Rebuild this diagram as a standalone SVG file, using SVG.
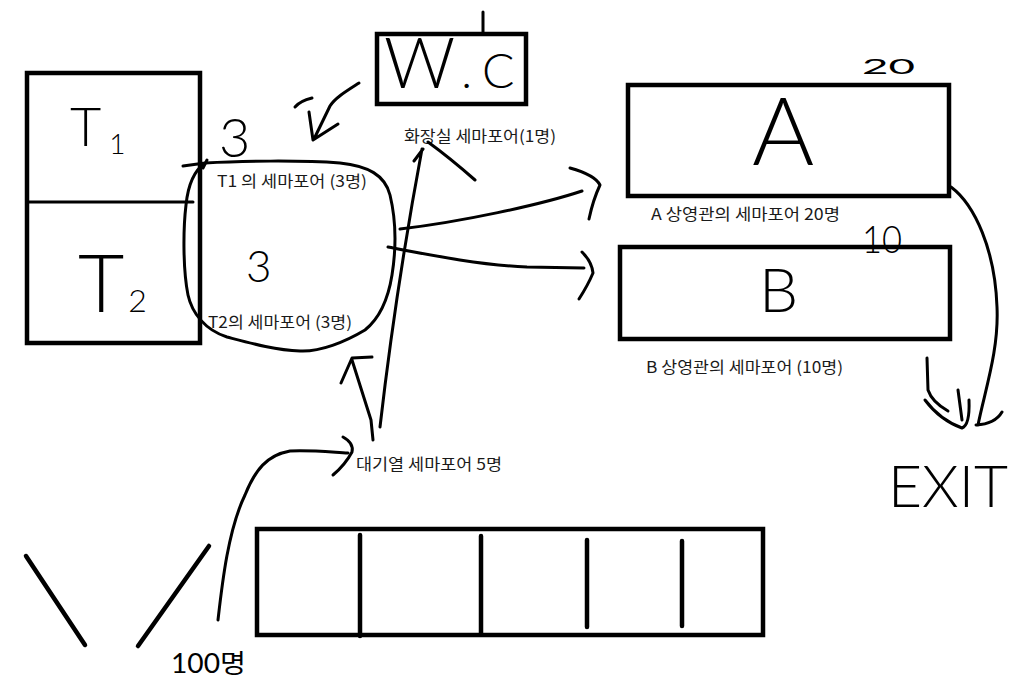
<svg xmlns="http://www.w3.org/2000/svg" width="1019" height="688" viewBox="0 0 1019 688">
<style>
.box{fill:none;stroke:#000;stroke-width:4.5}
.ln{fill:none;stroke:#000;stroke-width:3;stroke-linecap:round;stroke-linejoin:round}
.thick{fill:none;stroke:#000;stroke-width:4.5;stroke-linecap:round}
.hand{font-family:Lato,"Open Sans","Noto Sans CJK KR",sans-serif;font-weight:300;fill:#000}
.handb{font-family:Lato,"Open Sans","Noto Sans CJK KR",sans-serif;font-weight:400;fill:#000}
.lbl{font-family:"Noto Sans CJK KR","Noto Sans",sans-serif;font-size:16px;fill:#1a1a1a}
</style>
<rect width="1019" height="688" fill="#fff"/>
<g id="tables">
<rect class="box" x="27" y="73" width="173" height="270"/>
<path class="ln" d="M27,202 L193,202"/>
<text class="hand" x="70" y="146" font-size="54">T<tspan font-size="28" dx="8" dy="8">1</tspan></text>
<text class="hand" x="78" y="312" font-size="80">T<tspan font-size="32" dx="4">2</tspan></text>
<text class="hand" x="219" y="157" font-size="54">3</text>
</g>
<g id="semaphore-t">
<path class="ln" d="M205,163 C240,161 300,160 340,163 C368,166 385,175 390,195 C396,220 396,250 392,275 C388,300 380,318 365,330 C345,342 320,352 300,351 C275,350 250,343 227,337 C205,330 192,313 188,295 C183,270 183,230 186,205 C188,185 195,170 205,163 Z"/>
<path class="ln" d="M183,166 L205,163 M203,168 L207,160"/>
<text class="hand" x="246" y="282" font-size="44">3</text>
<text class="lbl" x="217" y="187" textLength="150" lengthAdjust="spacingAndGlyphs">T1 의 세마포어 (3명)</text>
<text class="lbl" x="208" y="328" textLength="144" lengthAdjust="spacingAndGlyphs">T2의 세마포어 (3명)</text>
</g>
<g id="wc">
<rect class="box" x="377" y="34" width="149" height="70"/>
<path class="ln" d="M483,12 L483,33"/>
<text class="hand" x="384" y="88" font-size="70">W<tspan font-size="46" dx="6">.</tspan><tspan font-size="48" dx="10">C</tspan></text>
<text class="lbl" x="404" y="142" textLength="152" lengthAdjust="spacingAndGlyphs">화장실 세마포어(1명)</text>
</g>
<g id="theater-a">
<rect class="box" x="628" y="85" width="321" height="111"/>
<text class="hand" x="752" y="165" font-size="95">A</text>
<text class="handb" x="862" y="74" font-size="22" textLength="53" lengthAdjust="spacingAndGlyphs">20</text>
<text class="lbl" x="651" y="220" textLength="189" lengthAdjust="spacingAndGlyphs">A 상영관의 세마포어 20명</text>
</g>
<g id="theater-b">
<rect class="box" x="620" y="247" width="330" height="92"/>
<text class="hand" x="759" y="312" font-size="62">B</text>
<text class="hand" x="862" y="253" font-size="38" textLength="40" lengthAdjust="spacingAndGlyphs">10</text>
<text class="lbl" x="646" y="373" textLength="197" lengthAdjust="spacingAndGlyphs">B 상영관의 세마포어 (10명)</text>
</g>
<g id="exit">
<text class="hand" x="888" y="507" font-size="58" textLength="120" lengthAdjust="spacingAndGlyphs">EXIT</text>
</g>
<g id="queue">
<rect class="box" x="257" y="529" width="506" height="106"/>
<path class="thick" d="M360,535 L360,636 M481,536 L481,633 M587,540 L587,627 M682,541 L682,626"/>
<text class="lbl" x="356" y="470" textLength="146" lengthAdjust="spacingAndGlyphs">대기열 세마포어 5명</text>
</g>
<g id="people">
<path class="thick" d="M26,556 L85,645 M209,546 L138,646"/>
<text class="handb" x="171" y="673" font-size="26" textLength="75" lengthAdjust="spacingAndGlyphs">100명</text>
</g>
<g id="connectors">
<path class="ln" d="M400,229 C460,222 540,205 582,191"/>
<path class="ln" d="M570,168 Q595,175 600,185 Q593,200 589,219"/>
<path class="ln" d="M388,247 C430,255 480,265 527,267 L584,268"/>
<path class="ln" d="M582,252 Q592,262 593,273 Q588,285 579,299"/>
<path class="ln" d="M380,427 C390,340 405,240 422,149 M414,161 L423,149 M428,142 Q450,158 475,180"/>
<path class="ln" d="M373,440 L371,420 L352,360 M341,383 L352,358 L372,357"/>
<path class="ln" d="M218,620 C222,585 228,530 245,495 C255,470 267,455 290,451 C310,450 330,452 348,453"/>
<path class="ln" d="M343,437 Q354,443 352,452 Q345,465 333,475"/>
<path class="ln" d="M359,83 C345,92 335,98 330,106 L314,139 M309,112 L313,140 L338,124 M295,107 Q300,101 312,98"/>
<path class="ln" d="M951,187 C975,205 995,250 997,307 C999,350 985,390 978,425 M976,425 Q995,424 1002,412"/>
<path class="ln" d="M927,358 L928,390 Q932,402 948,411 M925,400 Q940,420 962,428 Q970,425 969,400 M958,390 L962,420"/>
</g>
</svg>
